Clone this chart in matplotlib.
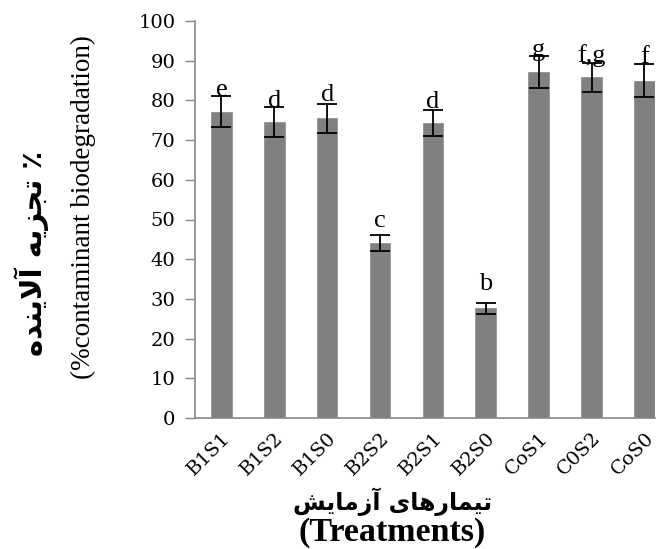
import matplotlib
matplotlib.use("Agg")
import matplotlib.pyplot as plt

categories = ["B1S1", "B1S2", "B1S0", "B2S2", "B2S1", "B2S0", "CoS1", "C0S2", "CoS0"]
values = [77.2, 74.6, 75.5, 44.0, 74.3, 27.6, 87.1, 85.8, 85.0]
errors = [4.0, 3.8, 3.6, 2.0, 3.3, 1.4, 4.1, 3.6, 4.1]
letters = ["e", "d", "d", "c", "d", "b", "g", "f,g", "f"]
yticks = [0, 10, 20, 30, 40, 50, 60, 70, 80, 90, 100]

# gap between the error-bar cap and the letter baseline (layout only)
letter_gap = [0.0, 0.0, 0.7, 2.0, 0.6, 3.2, 0.0, 0.3, 0.2]

# Persian text in pre-shaped presentation forms (visual order)
ylab_fa = ("\uFEE9\uFEAA\uFEE8\uFEF3\uFEFB\uFE81" + " " +
           "\uFEEA\uFEF3\uFEB0\uFEA0\uFE97" + " " + "\u066A")
ylab_en = "(%contaminant biodegradation)"
xlab_fa = ("\uFEB6\uFEF3\uFE8E\uFEE3\uFEAF\uFE81" + " " +
           "\uFEEF\uFE8E\uFEEB\uFEAD\uFE8E\uFEE4\uFEF4\uFE97")
xlab_en = "(Treatments)"

W, H = 659, 549
fig = plt.figure(figsize=(W / 100, H / 100), dpi=100)
ax = fig.add_axes([195 / W, (H - 418) / H, (655 - 195) / W, (418 - 21) / H])

x = list(range(len(categories)))
ax.bar(x, values, width=0.39, color="#808080", edgecolor="#8a8a8a", linewidth=0.5, zorder=2)
ax.errorbar(x, values, yerr=errors, fmt="none", ecolor="black", elinewidth=1.3,
            capsize=7, capthick=1.3, zorder=3)

for xi, v, e, t, g in zip(x, values, errors, letters, letter_gap):
    ax.text(xi, v + e + g, t, ha="center", va="baseline", fontsize=19,
            family="Liberation Serif", zorder=4)

ax.set_xlim(-0.5, 8.2)
ax.set_ylim(0, 100)
ax.set_yticks(yticks)
ax.set_yticklabels([str(t) for t in yticks], family="DejaVu Serif", fontsize=14)
ax.set_xticks(x)
ax.set_xticklabels(categories, rotation=45, ha="right", rotation_mode="anchor",
                   family="DejaVu Serif", fontsize=14)
ax.tick_params(axis="x", length=0, pad=8)
ax.tick_params(axis="y", length=7, color="#888888", pad=7, width=1)

for s in ["top", "right"]:
    ax.spines[s].set_visible(False)
for s in ["left", "bottom"]:
    ax.spines[s].set_color("#888888")
    ax.spines[s].set_linewidth(1.2)

fig.text(32 / W, 1 - 253 / H, ylab_fa, rotation=90, ha="center", va="center",
         fontsize=21, fontweight="bold", family=["DejaVu Sans"])
fig.text(83 / W, 1 - 207 / H, ylab_en, rotation=90, ha="center", va="center",
         fontsize=19.5, family="Liberation Serif")
fig.text(393 / W, 1 - 502 / H, xlab_fa, ha="center", va="center",
         fontsize=17, fontweight="bold", family=["DejaVu Sans"])
fig.text(392 / W, 1 - 533 / H, xlab_en, ha="center", va="center",
         fontsize=24.5, fontweight="bold", family="Liberation Serif")

fig.savefig("out.png", dpi=100)
